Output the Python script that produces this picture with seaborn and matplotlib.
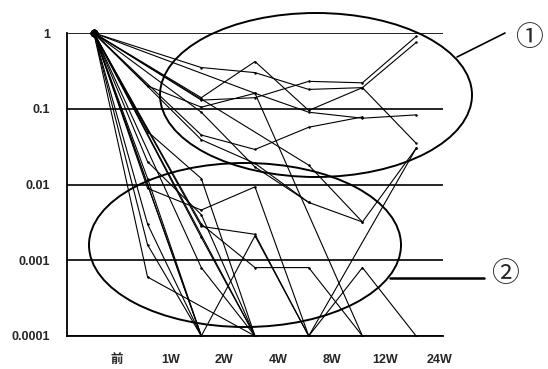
import numpy as np
import pandas as pd
import matplotlib
matplotlib.use("Agg")
import matplotlib.pyplot as plt
import seaborn as sns
from matplotlib.patches import Ellipse
from matplotlib.lines import Line2D
from matplotlib.ticker import NullLocator

# ---------------- data ----------------
periods = ["前", "1W", "2W", "4W", "8W", "12W", "24W"]
y_ticks = [1e-4, 1e-3, 1e-2, 1e-1, 1]
y_labels = ["0.0001", "0.001", "0.01", "0.1", "1"]
N = None

# group ① (stays high)
s01 = [1, N, 0.35, 0.30, 0.18, 0.19, 0.75]
s02 = [1, N, 0.13, 0.14, 0.23, 0.22, 0.90]
s03 = [1, N, 0.14, 0.42, 0.095, 0.19, 0.035]
s04 = [1, N, N, 0.16, N, 0.0001, N]
s05 = [1, 0.20, 0.105, 0.16, 0.09, 0.075, 0.083]
s06 = [1, N, 0.045, 0.029, 0.057, 0.078, N]
s07 = [1, N, 0.039, 0.019, 0.0058, 0.0032, 0.03]
s08 = [1, N, N, N, 0.018, 0.0032, N]
s09 = [1, N, 0.09, 0.017, 0.0058, N, N]

# group ② (falls low)
s10 = [1, 0.0089, 0.0046, 0.0093, 0.0001, 0.0008, 0.0001]
s11 = [1, N, 0.0001, 0.0021, 0.0001, N, 0.03]
s12 = [1, 0.0006, N, 0.0001, N, N, N]
s13 = [1, N, 0.0001, N, N, N, N]
s14 = [1, 0.012, 0.0001, N, N, N, N]
s15 = [1, 0.003, 0.0001, N, N, N, N]
s16 = [1, 0.0016, 0.0001, N, N, N, N]
s17 = [1, N, N, 0.0001, N, N, N]
s18 = [1, N, 0.0008, 0.0001, N, N, N]
s19 = [1, 0.02, 0.004, 0.0001, N, N, N]
s20 = [1, N, 0.002, 0.0001, N, N, N]
s21 = [1, 0.05, 0.012, 0.0001, N, N, N]
s22 = [1, N, 0.003, 0.0008, 0.0008, 0.0001, N]
s23 = [1, N, 0.0028, 0.0022, 0.0001, N, N]

series = {
    "s01": s01, "s02": s02, "s03": s03, "s04": s04, "s05": s05, "s06": s06,
    "s07": s07, "s08": s08, "s09": s09, "s10": s10, "s11": s11, "s12": s12,
    "s13": s13, "s14": s14, "s15": s15, "s16": s16, "s17": s17, "s18": s18,
    "s19": s19, "s20": s20, "s21": s21, "s22": s22, "s23": s23,
}

rows = []
for name, vals in series.items():
    for i, v in enumerate(vals):
        if v is not None:
            rows.append((name, i, v))
df = pd.DataFrame(rows, columns=["series", "t", "value"])

# ---------------- plot ----------------
sns.set_style("white")
plt.rcParams["font.family"] = ["Liberation Sans", "Noto Sans CJK JP", "DejaVu Sans"]

W, H = 548, 369
fig = plt.figure(figsize=(W / 100, H / 100), dpi=100)
ax = fig.add_axes([67 / W, 1 - 336 / H, (443 - 67) / W, (336 - 33) / H])

sns.lineplot(data=df, x="t", y="value", units="series", estimator=None,
             color="black", lw=0.8, marker="o", markersize=1.8,
             markeredgewidth=0, legend=False, ax=ax)
sns.scatterplot(data=df[df["t"] == 0], x="t", y="value", color="black",
                s=28, linewidth=0, legend=False, ax=ax, clip_on=False, zorder=5)

ax.set_yscale("log")
ax.set_ylim(1e-4, 1)
ax.set_xlim(-0.5, 6.5)
ax.set_yticks(y_ticks)
ax.set_yticklabels(y_labels, fontweight="bold")
ax.yaxis.set_minor_locator(NullLocator())
ax.yaxis.grid(True, color="black", lw=1.2)
ax.xaxis.grid(False)
ax.set_xlabel("")
ax.set_ylabel("")

ax.set_xticks([i + 0.43 for i in range(len(periods))])
ax.set_xticklabels(periods, fontweight="bold")
ax.set_xticks(np.arange(0.5, 7, 1), minor=True)
ax.tick_params(axis="x", which="major", length=0, pad=13, labelsize=9)
ax.tick_params(axis="x", which="minor", direction="in", length=3, width=0.8, color="black")
ax.tick_params(axis="y", length=0, pad=12, labelsize=9)

for s in ["top", "right"]:
    ax.spines[s].set_visible(False)
for s in ["left", "bottom"]:
    ax.spines[s].set_color("black")
    ax.spines[s].set_linewidth(1.3)

# annotation ellipses and callouts (figure pixel layout)
def fx(px):
    return px / W

def fy(py):
    return 1 - py / H

fig.add_artist(Ellipse((fx(316), fy(95)), 312 / W, 164 / H, transform=fig.transFigure,
                       fill=False, ec="black", lw=1.4))
fig.add_artist(Ellipse((fx(245), fy(245)), 312 / W, 164 / H, transform=fig.transFigure,
                       fill=False, ec="black", lw=1.4))
fig.add_artist(Line2D([fx(457), fx(505)], [fy(57), fy(33)], transform=fig.transFigure,
                      color="black", lw=1.2))
fig.add_artist(Line2D([fx(390), fx(484)], [fy(278), fy(278)], transform=fig.transFigure,
                      color="black", lw=1.8))
fig.text(fx(529), fy(38), "①", ha="center", va="center", fontsize=20,
         family=["Noto Sans CJK JP", "DejaVu Sans"])
fig.text(fx(505), fy(274), "②", ha="center", va="center", fontsize=20,
         family=["Noto Sans CJK JP", "DejaVu Sans"])

fig.savefig("out.png", dpi=100)
